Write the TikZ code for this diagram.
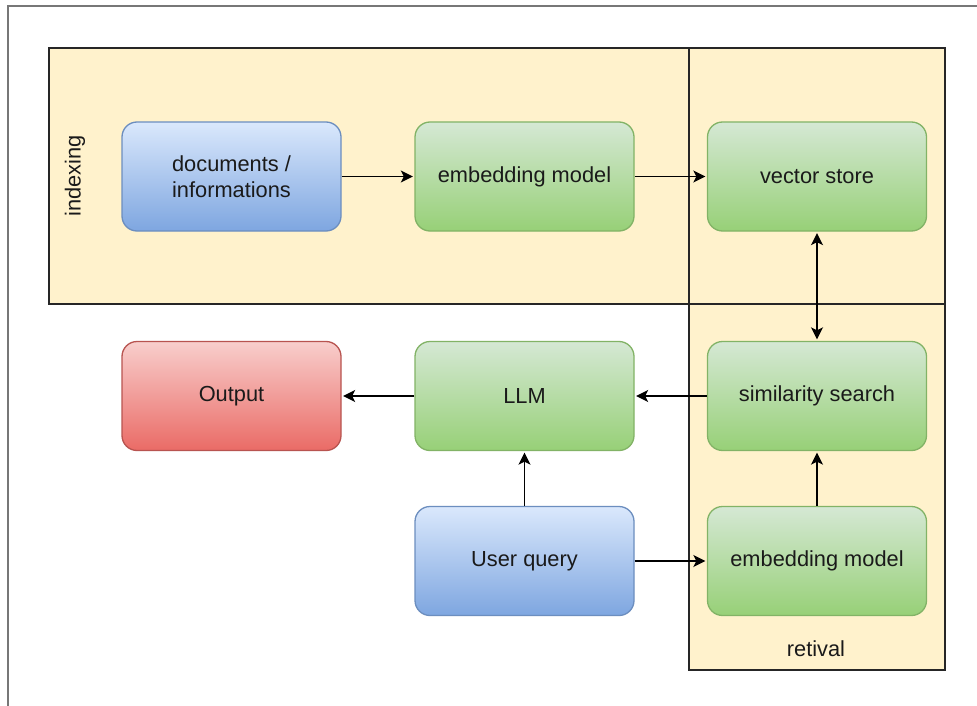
\documentclass[tikz,border=0pt]{standalone}
\usepackage{fontspec}
\setmainfont{Liberation Sans}
\usetikzlibrary{arrows.meta}
\definecolor{contfill}{HTML}{FFF2CC}
\definecolor{bluetop}{HTML}{DAE8FC}
\definecolor{bluebot}{HTML}{7EA6E0}
\definecolor{blueline}{HTML}{6C8EBF}
\definecolor{greentop}{HTML}{D5E8D4}
\definecolor{greenbot}{HTML}{97D077}
\definecolor{greenline}{HTML}{82B366}
\definecolor{redtop}{HTML}{F8CECC}
\definecolor{redbot}{HTML}{EA6B66}
\definecolor{redline}{HTML}{B85450}
\definecolor{txt}{HTML}{1A1A1A}
\definecolor{frame}{HTML}{777777}
\tikzset{
  box/.style={rounded corners=15pt, minimum width=219pt, minimum height=109pt,
    line width=1.3pt, align=center, text=txt, font=\fontsize{21.8}{26.5}\selectfont},
  bluebox/.style={box, draw=blueline, top color=bluetop, bottom color=bluebot},
  greenbox/.style={box, draw=greenline, top color=greentop, bottom color=greenbot},
  redbox/.style={box, draw=redline, top color=redtop, bottom color=redbot},
  container/.style={fill=contfill, draw=black!85, line width=1.6pt},
  tip/.style={},
  conn/.style={line width=1.8pt, shorten >=1.5pt, -{Stealth[length=12pt,width=12pt,inset=3pt]}},
  biconn/.style={line width=1.8pt, shorten >=1.5pt, shorten <=1.5pt, {Stealth[length=12pt,width=12pt,inset=3pt]}-{Stealth[length=12pt,width=12pt,inset=3pt]}},
  lbl/.style={text=txt, font=\fontsize{21.8}{26.5}\selectfont}
}
\begin{document}
\begin{tikzpicture}[x=1pt,y=-1pt]
\useasboundingbox (0,0) rectangle (977,706);
\fill[white] (0,0) rectangle (977,706);
\draw[frame, line width=2pt] (8,706) -- (8,6) -- (977,6);
% containers
\draw[container] (689,48) rectangle (945,670);
\draw[container] (49,48) rectangle (945,304);
\draw[black!85, line width=1.6pt] (689,48) -- (689,670);
\draw[black!85, line width=1.6pt] (689,304) -- (945,304);
\node[lbl, rotate=90] (idx) at (75,176) {indexing};
\node[lbl] (ret) at (816,649) {retival};
% nodes
\node[bluebox] (docs) at (231.5,176.5) {documents /\\informations};
\node[greenbox] (emb1) at (524.5,176.5) {embedding model};
\node[greenbox] (vs) at (817,176.5) {vector store};
\node[redbox] (out) at (231.5,396) {Output};
\node[greenbox] (llm) at (524.5,396) {LLM};
\node[greenbox] (sim) at (817,396) {similarity search};
\node[bluebox] (uq) at (524.5,561) {User query};
\node[greenbox] (emb2) at (817,561) {embedding model};
% connectors
\draw[conn] (docs) -- (emb1);
\draw[conn] (emb1) -- (vs);
\draw[biconn] (vs) -- (sim);
\draw[conn] (sim) -- (llm);
\draw[conn] (llm) -- (out);
\draw[conn] (uq) -- (llm);
\draw[conn] (uq) -- (emb2);
\draw[conn] (emb2) -- (sim);
\end{tikzpicture}
\end{document}
